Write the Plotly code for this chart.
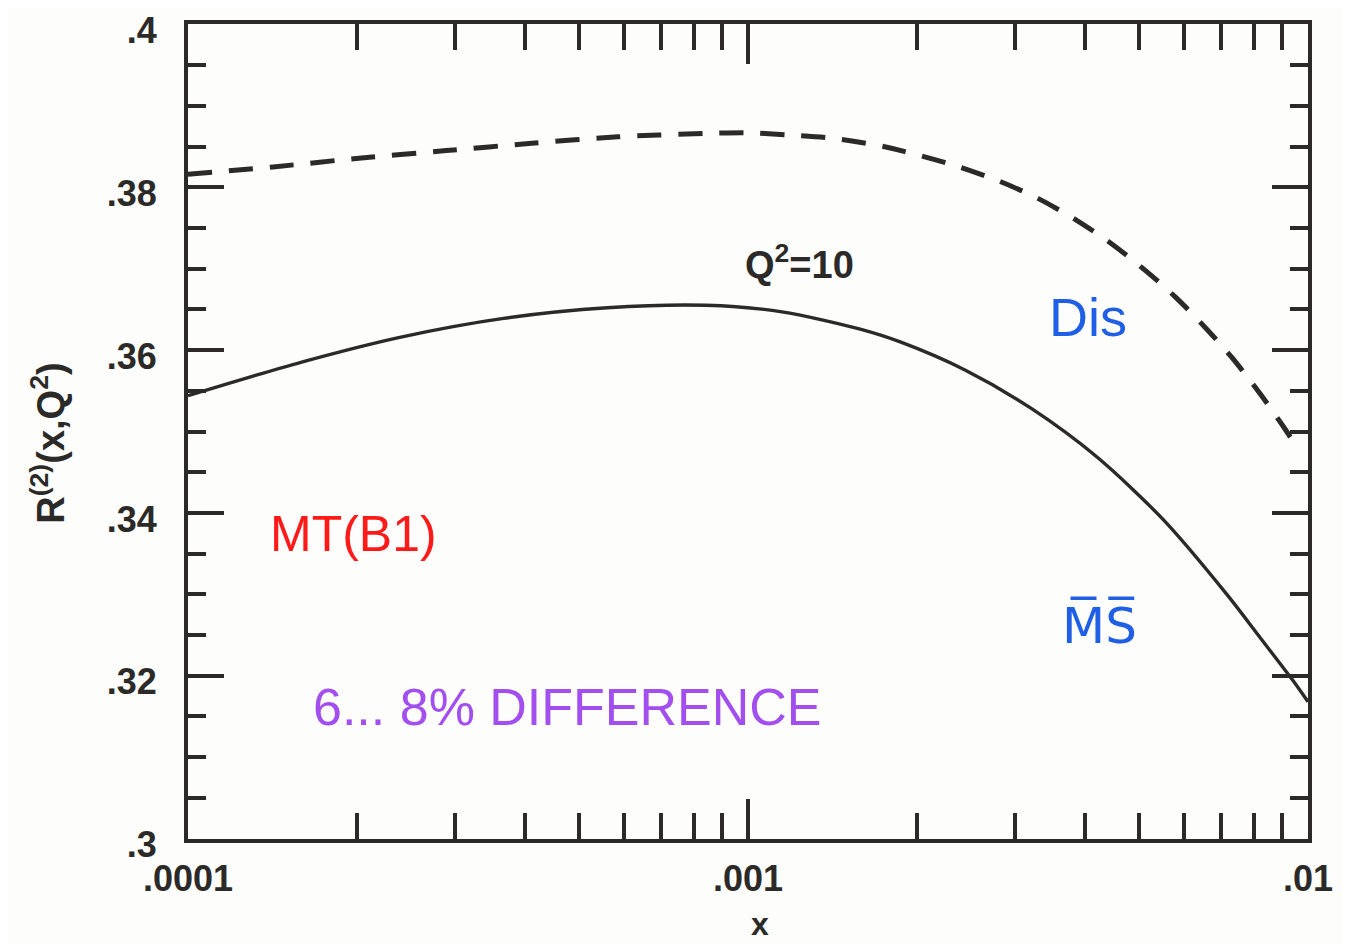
import plotly.graph_objects as go

# MS-bar (solid) curve
ms_x = [1.0e-4, 1.59e-4, 2.40e-4, 3.66e-4, 5.61e-4, 8.41e-4, 1.15e-3, 1.58e-3,
        1.87e-3, 2.45e-3, 3.21e-3, 4.21e-3, 5.51e-3, 7.18e-3, 8.21e-3, 9.38e-3, 1.0e-2]
ms_y = [0.3544, 0.3585, 0.3616, 0.3639, 0.3652, 0.3655, 0.3647, 0.3626,
        0.3610, 0.3575, 0.3528, 0.3468, 0.3392, 0.3299, 0.3247, 0.3195, 0.3168]

# DIS (dashed) curve
dis_x = [1.0e-4, 1.42e-4, 2.04e-4, 2.89e-4, 4.11e-4, 5.86e-4, 8.38e-4, 9.96e-4,
         1.19e-3, 1.42e-3, 1.69e-3, 1.90e-3, 2.36e-3, 2.82e-3, 3.30e-3, 3.85e-3,
         4.47e-3, 5.14e-3, 5.80e-3, 6.59e-3, 7.33e-3, 8.22e-3, 9.08e-3, 9.5e-3]
dis_y = [0.3816, 0.3825, 0.3836, 0.3845, 0.3854, 0.3862, 0.3866, 0.3867,
         0.3864, 0.3860, 0.3852, 0.3844, 0.3826, 0.3807, 0.3786, 0.3760,
         0.3730, 0.3697, 0.3665, 0.3626, 0.3590, 0.3546, 0.3504, 0.3483]

x_tickvals = [1e-4, 1e-3, 1e-2]
x_ticktext = [".0001", ".001", ".01"]
y_tickvals = [0.30, 0.32, 0.34, 0.36, 0.38, 0.40]
y_ticktext = [".3", ".32", ".34", ".36", ".38", ".4"]

ink = "#2b2a28"

fig = go.Figure()
fig.add_trace(go.Scatter(x=dis_x, y=dis_y, mode="lines",
                         line=dict(color=ink, width=5, dash="24px,17px", shape="spline", smoothing=0.8),
                         showlegend=False, hoverinfo="skip"))
fig.add_trace(go.Scatter(x=ms_x, y=ms_y, mode="lines",
                         line=dict(color=ink, width=3.4, shape="spline", smoothing=0.8),
                         showlegend=False, hoverinfo="skip"))

tickfont = dict(family="Liberation Sans, Arial, sans-serif", size=36, color=ink, weight="bold")

fig.update_xaxes(type="log", range=[-4, -2], tickvals=x_tickvals, ticktext=x_ticktext,
                 ticks="inside", ticklen=40, tickwidth=3.5, tickcolor=ink,
                 minor=dict(dtick="D1", ticks="inside", ticklen=26, tickwidth=3.5, tickcolor=ink),
                 showline=True, linecolor=ink, linewidth=4, mirror="ticks",
                 showgrid=False, zeroline=False, tickfont=tickfont, ticklabelstandoff=5,
                 automargin=False)
fig.update_yaxes(range=[0.29995, 0.40005], tickvals=y_tickvals, ticktext=y_ticktext,
                 ticks="inside", ticklen=36, tickwidth=3.5, tickcolor=ink,
                 minor=dict(dtick=0.005, ticks="inside", ticklen=18, tickwidth=3.5, tickcolor=ink),
                 showline=True, linecolor=ink, linewidth=4, mirror="ticks",
                 showgrid=False, zeroline=False, tickfont=tickfont, ticklabelstandoff=20,
                 ticklabelshift=6, automargin=False)

ann_font = "Liberation Sans, Arial, sans-serif"

def note(x, y, text, size, color, family=ann_font, weight="normal", angle=0):
    return dict(x=x, y=y, xref="paper", yref="paper", text=text, textangle=angle,
                xanchor="center", yanchor="middle", showarrow=False,
                font=dict(family=family, size=size, color=color, weight=weight))

annotations = [
    note(-0.125, 0.485, "R<sup>(2)</sup>(x,Q<sup>2</sup>)", 38, ink, weight="bold", angle=-90),
    note(0.511, -0.104, "x", 32, ink, weight="bold"),
    note(0.546, 0.708, "Q<sup>2</sup>=10", 38, ink, weight="bold"),
    note(0.148, 0.374, "MT(B1)", 50, "#ff1a1a"),
    note(0.339, 0.162, "6... 8% DIFFERENCE", 52, "#a34ff0"),
    note(0.804, 0.640, "Dis", 54, "#1f5fe6"),
    note(0.814, 0.262, "M\u0305S\u0305", 50, "#1f5fe6", family="DejaVu Sans, sans-serif"),
]

# page body has an 8px default margin, so the figure is sized to fit the 1351x944 window
fig.update_layout(width=1343, height=936, autosize=False,
                  margin=dict(l=180, r=43, t=16, b=105),
                  paper_bgcolor="#fdfdfb", plot_bgcolor="#fdfdfb",
                  annotations=annotations, showlegend=False)

fig.write_html("out.html")
